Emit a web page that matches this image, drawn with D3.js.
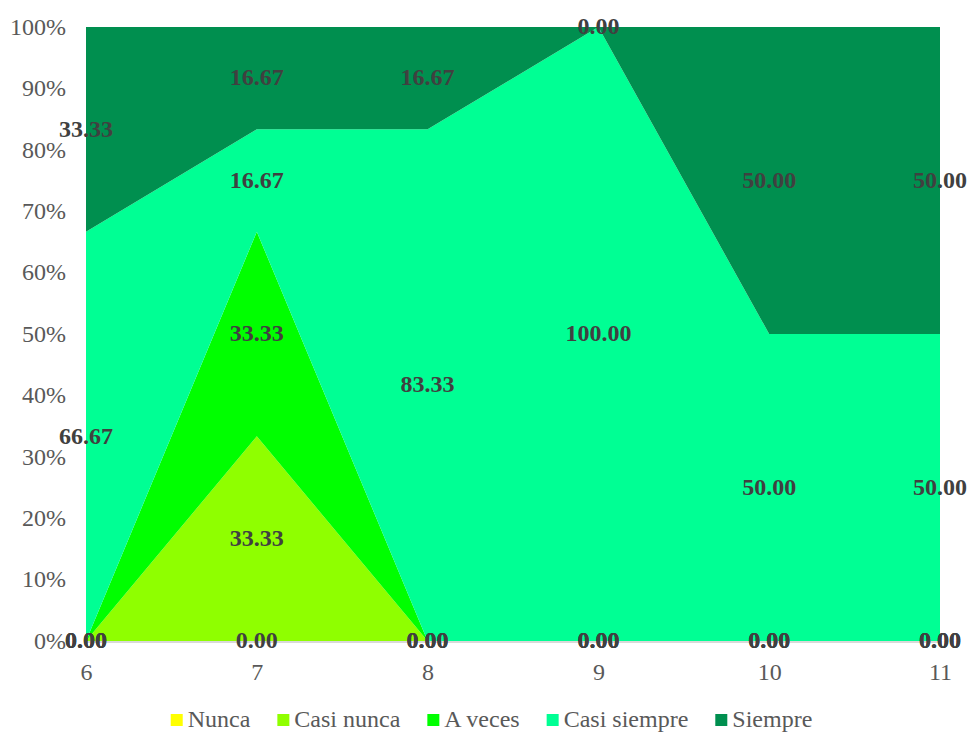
<!DOCTYPE html>
<html>
<head>
<meta charset="utf-8">
<script src="https://cdn.jsdelivr.net/npm/d3@7"></script>
<style>
  html, body { margin: 0; padding: 0; background: #fff; }
  svg { display: block; }
</style>
</head>
<body>
<svg id="chart" width="970" height="733"></svg>
<script>
// Categories along the x axis
const categories = ["6", "7", "8", "9", "10", "11"];

// Percentage share per response option
const seriesNames = ["Nunca", "Casi nunca", "A veces", "Casi siempre", "Siempre"];
const nunca       = [0, 0, 0, 0, 0, 0];
const casiNunca   = [0, 33.33, 0, 0, 0, 0];
const aVeces      = [0, 33.33, 0, 0, 0, 0];
const casiSiempre = [66.67, 16.67, 83.33, 100, 50, 50];
const siempre     = [33.33, 16.67, 16.67, 0, 50, 50];

const yTicks = [0, 10, 20, 30, 40, 50, 60, 70, 80, 90, 100];

const colors = ["#FFFF00", "#8FFF00", "#00FF00", "#00FF94", "#008F4F"];

const seriesValues = [nunca, casiNunca, aVeces, casiSiempre, siempre];
const rows = categories.map((c, i) => {
  const r = { cat: c };
  seriesNames.forEach((s, k) => { r[s] = seriesValues[k][i]; });
  return r;
});

const svg = d3.select("#chart");
const W = 970;

const x = d3.scalePoint().domain(categories).range([86, 940]);
const y = d3.scaleLinear().domain([0, 100]).range([641, 27]);

const stack = d3.stack().keys(seriesNames).offset(d3.stackOffsetExpand);
const layers = stack(rows);

const area = d3.area()
  .x(d => x(d.data.cat))
  .y0(d => y(d[0] * 100))
  .y1(d => y(d[1] * 100));

svg.append("g").selectAll("path")
  .data(layers)
  .join("path")
  .attr("d", area)
  .attr("fill", (d, i) => colors[i]);

// baseline
svg.append("line")
  .attr("x1", 86).attr("x2", 940)
  .attr("y1", y(0) + 1).attr("y2", y(0) + 1)
  .attr("stroke", "#d9d9d9").attr("stroke-width", 2);

const fontFam = "'Liberation Serif', 'Times New Roman', serif";
const fs = 24;

// y axis
const yAxis = d3.axisLeft(y).tickValues(yTicks).tickFormat(d => d + "%").tickSize(0).tickPadding(0);
const yg = svg.append("g").attr("transform", "translate(66,0)").call(yAxis);
yg.select(".domain").remove();
yg.selectAll("text")
  .attr("font-family", fontFam).attr("font-size", fs).attr("fill", "#595959")
  .attr("dy", "0.3em");

// x axis
const xAxis = d3.axisBottom(x).tickSize(0).tickPadding(0);
const xg = svg.append("g").attr("transform", "translate(0,673)").call(xAxis);
xg.select(".domain").remove();
xg.selectAll("text")
  .attr("font-family", fontFam).attr("font-size", fs).attr("fill", "#595959")
  .attr("dy", "0.3em");

// data labels at the middle of each band
const labelG = svg.append("g");
layers.forEach((layer, k) => {
  layer.forEach((d, i) => {
    const val = seriesValues[k][i];
    labelG.append("text")
      .attr("x", x(d.data.cat))
      .attr("y", y((d[0] + d[1]) / 2 * 100))
      .attr("dy", "0.3em")
      .attr("text-anchor", "middle")
      .attr("font-family", fontFam)
      .attr("font-weight", "bold")
      .attr("font-size", fs)
      .attr("fill", "#404040")
      .text(val.toFixed(2));
  });
});

// legend
const lg = svg.append("g");
let lx = 0;
seriesNames.forEach((s, i) => {
  const g = lg.append("g").attr("transform", `translate(${lx},0)`);
  g.append("rect").attr("x", 0).attr("y", -6).attr("width", 12).attr("height", 12).attr("fill", colors[i]);
  const t = g.append("text").attr("x", 17).attr("y", 0).attr("dy", "0.3em")
    .attr("font-family", fontFam).attr("font-size", fs).attr("fill", "#595959").text(s);
  lx += 17 + t.node().getComputedTextLength() + 27;
});
const totalW = lx - 27;
lg.attr("transform", `translate(${491.5 - totalW / 2},720)`);
</script>
</body>
</html>
